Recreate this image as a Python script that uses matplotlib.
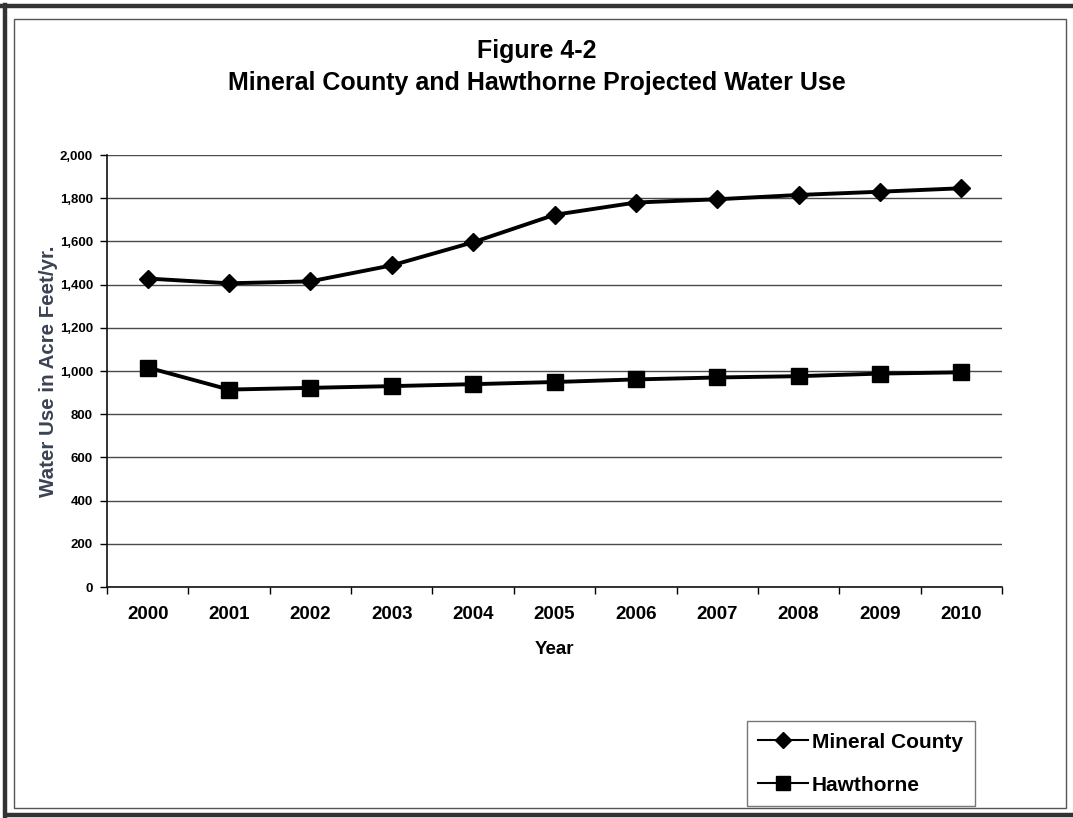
import matplotlib
matplotlib.use("Agg")
import matplotlib.pyplot as plt
from matplotlib.lines import Line2D
from matplotlib.patches import Rectangle
from matplotlib.ticker import FixedLocator, FuncFormatter

plt.rcParams['font.family'] = ['Liberation Sans', 'DejaVu Sans']

years = ["2000", "2001", "2002", "2003", "2004", "2005",
         "2006", "2007", "2008", "2009", "2010"]
mineral_county = [1428, 1406, 1415, 1489, 1596, 1723, 1780, 1795, 1815, 1830, 1846]
hawthorne = [1016, 914, 922, 930, 939, 949, 961, 970, 976, 988, 994]
y_ticks = [0, 200, 400, 600, 800, 1000, 1200, 1400, 1600, 1800, 2000]

W, H = 1073, 818
fig = plt.figure(figsize=(W / 100, H / 100), dpi=100)

def fx(px):
    return px / W

def fy(py):
    return 1 - py / H

# page frame: heavy outer rule plus a thin inner box
fig.add_artist(Line2D([0, 1], [fy(6), fy(6)], color="#333333", lw=3.2))
fig.add_artist(Line2D([fx(4.5), fx(4.5)], [fy(5), 0], color="#333333", lw=3.2))
fig.add_artist(Line2D([fx(8), 1], [fy(815), fy(815)], color="#333333", lw=3.2))
fig.add_artist(Rectangle((fx(14), fy(808)), fx(1066) - fx(14), fy(19) - fy(808),
                         fill=False, edgecolor="#555555", lw=1.0))

ax = fig.add_axes([fx(107), fy(587), fx(1002) - fx(107), fy(155) - fy(587)])
x = list(range(len(years)))

ax.set_ylim(0, 2000)
ax.set_xlim(-0.5, len(years) - 0.5)
ax.yaxis.set_major_locator(FixedLocator(y_ticks))
ax.yaxis.set_major_formatter(FuncFormatter(lambda v, p: f"{int(v):,}"))
ax.set_xticks(x)
ax.set_xticklabels(years)
ax.xaxis.set_minor_locator(FixedLocator([i - 0.5 for i in range(len(years) + 1)]))

ax.grid(axis="y", color="#4a4a4a", lw=1.0)
ax.set_axisbelow(True)
for side in ("top", "right"):
    ax.spines[side].set_visible(False)
ax.spines["left"].set_color("#111111")
ax.spines["bottom"].set_color("#111111")
ax.spines["left"].set_linewidth(1.2)
ax.spines["bottom"].set_linewidth(1.2)

ax.tick_params(axis="y", length=5, width=1, labelsize=9.5, pad=5)
ax.tick_params(axis="x", which="major", length=0, labelsize=13.5, pad=14)
ax.tick_params(axis="x", which="minor", length=5, width=1)
for lbl in ax.get_yticklabels() + ax.get_xticklabels():
    lbl.set_fontweight("bold")

ax.plot(x, mineral_county, color="black", lw=2.8, marker="D", ms=9,
        label="Mineral County")
ax.plot(x, hawthorne, color="black", lw=2.8, marker="s", ms=11,
        label="Hawthorne")

ax.set_xlabel("Year", fontsize=13.5, fontweight="bold", labelpad=13)
ax.set_ylabel("Water Use in Acre Feet/yr.", fontsize=14.8, fontweight="bold",
              color="#3b4252", labelpad=1)

fig.text(0.5, fy(51), "Figure 4-2", ha="center", va="center",
         fontsize=18, fontweight="bold")
fig.text(0.5, fy(83), "Mineral County and Hawthorne Projected Water Use",
         ha="center", va="center", fontsize=18, fontweight="bold")

handles = [Line2D([], [], color="black", lw=1.5, marker="D", ms=8),
           Line2D([], [], color="black", lw=1.5, marker="s", ms=10)]
leg = fig.legend(handles, ["Mineral County", "Hawthorne"],
                 loc="lower left",
                 bbox_to_anchor=(fx(747), fy(806), fx(975) - fx(747), fy(715) - fy(806)),
                 mode="expand", frameon=True, fancybox=False,
                 prop={"weight": "bold", "size": 15},
                 handlelength=2.4, handletextpad=0.15, labelspacing=1.15,
                 borderaxespad=0, borderpad=0.55)
leg.get_frame().set_edgecolor("#555555")
leg.get_frame().set_linewidth(1.0)

fig.savefig("out.png", dpi=100)
